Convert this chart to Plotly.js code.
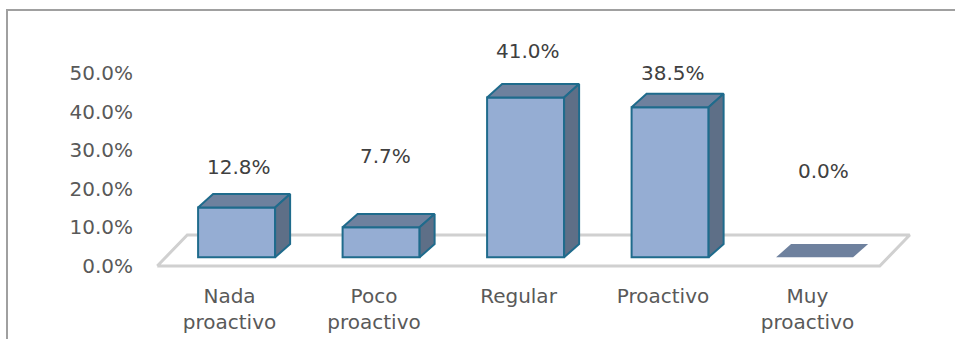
<!DOCTYPE html>
<html><head><meta charset="utf-8">
<script src="https://cdn.plot.ly/plotly-3.0.1.min.js"></script>
<style>html,body{margin:0;padding:0;background:#fff;overflow:hidden}#chart{width:955px;height:339px}</style>
</head><body><div id="chart"></div>
<script>
// ---- data ----
const categories = ["Nada<br>proactivo", "Poco<br>proactivo", "Regular", "Proactivo", "Muy<br>proactivo"];
const percentages = [12.8, 7.7, 41.0, 38.5, 0.0];
const yTickValues = [0, 10, 20, 30, 40, 50];
const yTickLabels = ["0.0%", "10.0%", "20.0%", "30.0%", "40.0%", "50.0%"];

// ---- style / geometry ----
const FONT = "DejaVu Sans";
const L = 140, R = 955, T = 10, B = 282;
const catStep = 144.5;          // px per category
const xCat0 = 229.5;            // px of first category label
const xBar0 = 236.6;            // px of first bar front-face centre
const yZero = 266, yScale = 3.86;   // label axis: px position of 0 and px per %
const bZero = 257.3, bScale = 3.9;  // bar axis
const barWidth = 0.533;
const depthX = 15 / catStep, depthY = 13.3 / bScale;
const floorDX = 30 / catStep, floorDY = (266 - 235) / yScale;
const labelYShift = [40.7, 71.6, 46.4, 34.6, 86.6];
const labelXShift = [2.4, 4.5, 1.9, 2.5, 8.5];
const C_FRONT = "#95ADD3", C_TOP = "#6E819E", C_SIDE = "#5E6F87", C_EDGE = "#1F6B8C", C_FLOOR = "#D0D0D0";

const idx = categories.map((_, i) => i);
const n = categories.length;
const traces = [];

// floor
traces.push({
  type: "scatter", mode: "lines", xaxis: "x", yaxis: "y", hoverinfo: "skip", showlegend: false,
  x: [-0.5, n - 0.5, n - 0.5 + floorDX, -0.5 + floorDX, -0.5],
  y: [0, 0, floorDY, floorDY, 0],
  line: { color: C_FLOOR, width: 3 }
});

// front faces
traces.push({
  type: "bar", xaxis: "x2", yaxis: "y2", x: idx, y: percentages, width: barWidth,
  hoverinfo: "skip", showlegend: false,
  marker: { color: C_FRONT, line: { color: percentages.map(v => v > 0 ? C_EDGE : "rgba(0,0,0,0)"), width: 2 } }
});

// top and side faces
percentages.forEach((v, i) => {
  const xl = i - barWidth / 2, xr = i + barWidth / 2;
  traces.push({
    type: "scatter", mode: "lines", fill: "toself", xaxis: "x2", yaxis: "y2", hoverinfo: "skip", showlegend: false,
    x: [xl, xl + depthX, xr + depthX, xr, xl],
    y: [v, v + depthY, v + depthY, v, v],
    fillcolor: C_TOP, line: { color: v > 0 ? C_EDGE : "rgba(0,0,0,0)", width: v > 0 ? 2 : 0 }
  });
  if (v > 0) {
    traces.push({
      type: "scatter", mode: "lines", fill: "toself", xaxis: "x2", yaxis: "y2", hoverinfo: "skip", showlegend: false,
      x: [xr, xr, xr + depthX, xr + depthX, xr],
      y: [0, v, v + depthY, depthY, 0],
      fillcolor: C_SIDE, line: { color: C_EDGE, width: 2 }
    });
  }
});

const annotations = percentages.map((v, i) => ({
  xref: "x2", yref: "y2", x: i, y: v, text: v.toFixed(1) + "%", showarrow: false,
  xanchor: "center", yanchor: "middle", xshift: labelXShift[i], yshift: labelYShift[i],
  font: { family: FONT, size: 20, color: "#404040" }
}));

const pw = R - L, ph = B - T;
const layout = {
  width: 955, height: 339,
  margin: { l: L, r: 955 - R, t: T, b: 339 - B, pad: 0 },
  paper_bgcolor: "#fff", plot_bgcolor: "rgba(0,0,0,0)",
  showlegend: false,
  font: { family: FONT, size: 20, color: "#595959" },
  xaxis: {
    range: [(L - xCat0) / catStep, (R - xCat0) / catStep],
    tickvals: idx, ticktext: categories, showgrid: false, zeroline: false, showline: false, ticks: "",
    tickfont: { family: FONT, size: 20, color: "#595959" }, fixedrange: true
  },
  yaxis: {
    range: [-(B - yZero) / yScale, (yZero - T) / yScale],
    tickvals: yTickValues, ticktext: yTickLabels, showgrid: false, zeroline: false, showline: false, ticks: "",
    ticklabelstandoff: 6,
    tickfont: { family: FONT, size: 20, color: "#595959" }, fixedrange: true
  },
  xaxis2: { overlaying: "x", anchor: "y2", visible: false, range: [(L - xBar0) / catStep, (R - xBar0) / catStep], fixedrange: true },
  yaxis2: { overlaying: "y", anchor: "x2", visible: false, range: [-(B - bZero) / bScale, (bZero - T) / bScale], fixedrange: true },
  annotations: annotations,
  shapes: [{
    type: "path", xref: "paper", yref: "paper", layer: "above",
    path: `M ${(7 - L) / pw},-0.5 L ${(7 - L) / pw},1 L 1.2,1`,
    line: { color: "#A0A0A0", width: 2 }
  }]
};

Plotly.newPlot("chart", traces, layout, { displayModeBar: false, staticPlot: true });
</script>
</body></html>
